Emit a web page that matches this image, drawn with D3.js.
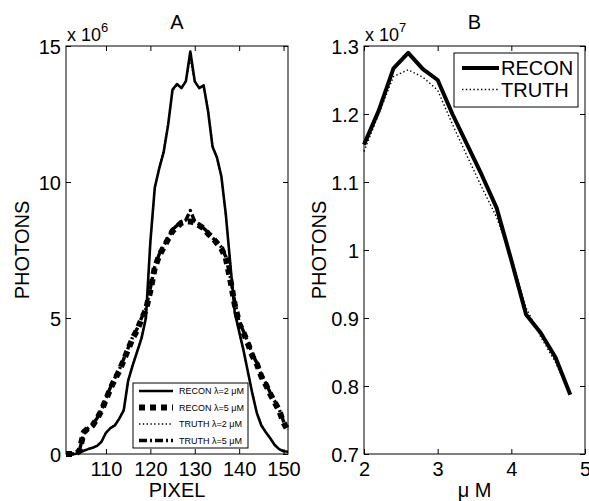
<!DOCTYPE html>
<html>
<head>
<meta charset="utf-8">
<script src="https://cdn.jsdelivr.net/npm/d3@7"></script>
<style>
  body { margin: 0; background: #fff; }
  text { font-family: "Liberation Sans", Arial, Helvetica, sans-serif; fill: #000; }
</style>
</head>
<body>
<div id="chart"></div>
<script>
// panel A: photons (x 10^6) along pixel
const pixels = [101,102,103,104,105,106,107,108,109,110,111,112,113,114,115,116,117,118,119,120,
  121,122,123,124,125,126,127,128,129,130,131,132,133,134,135,136,137,138,139,140,
  141,142,143,144,145,146,147,148,149,150,151]
const reconL2 = [0.02,0.01,0.0,0.05,0.12,0.18,0.23,0.3,0.45,0.78,0.95,1.05,1.3,1.6,2.7,3.25,3.75,4.25,5.0,7.8,
  9.8,10.5,11.1,12.1,13.4,13.6,13.45,13.7,14.8,13.7,13.45,13.55,12.6,11.3,10.9,10.2,8.8,7.0,5.2,4.5,
  3.8,3.0,2.2,1.5,1.05,0.8,0.58,0.33,0.18,0.1,0.08]
const reconL5 = [0,0,0,0.1,0.8,0.95,1.05,1.3,1.6,2.0,2.4,2.75,3.05,3.45,3.85,4.25,4.55,4.95,5.3,6.0,
  6.85,7.3,7.6,7.9,8.2,8.35,8.5,8.55,8.55,8.5,8.4,8.3,8.1,7.95,7.75,7.55,7.2,6.4,5.5,4.8,
  4.45,4.05,3.6,3.3,2.85,2.55,2.2,1.9,1.6,1.15,0.85]
const truthL2 = [0,0,0.02,0.06,0.12,0.19,0.24,0.32,0.48,0.8,0.96,1.08,1.32,1.65,2.65,3.3,3.8,4.3,5.1,7.7,
  9.7,10.55,11.2,12.2,13.35,13.55,13.5,13.75,14.5,13.65,13.5,13.5,12.7,11.4,10.85,10.15,8.7,7.1,5.3,4.45,
  3.75,3.0,2.25,1.55,1.1,0.82,0.6,0.35,0.2,0.1,0.08]
const truthL5 = [0,0,0,0.12,0.75,0.95,1.08,1.32,1.62,2.05,2.45,2.8,3.1,3.5,3.9,4.3,4.6,5.0,5.35,6.1,
  6.9,7.35,7.65,7.95,8.25,8.4,8.5,8.6,8.95,8.55,8.45,8.3,8.15,7.95,7.8,7.6,7.25,6.5,5.6,4.85,
  4.5,4.1,3.65,3.35,2.9,2.6,2.25,1.95,1.65,1.2,0.9]
const xTicksA = [110,120,130,140,150]
const yTicksA = [0,5,10,15]

// panel B: photons (x 10^7) against concentration
const conc = [2.0,2.2,2.4,2.6,2.8,3.0,3.2,3.4,3.6,3.8,4.0,4.2,4.4,4.6,4.8]
const reconB = [1.155,1.205,1.267,1.290,1.266,1.250,1.200,1.155,1.110,1.062,0.985,0.905,0.878,0.842,0.787]
const truthB = [1.145,1.200,1.255,1.265,1.254,1.235,1.185,1.138,1.092,1.048,0.988,0.915,0.872,0.835,0.788]
const xTicksB = [2,3,4,5]
const yTicksB = [0.7,0.8,0.9,1.0,1.1,1.2,1.3]

const width = 589
const height = 501
const plotTop = 46, plotBottom = 454

const svg = d3.select("#chart").append("svg")
  .attr("width", width)
  .attr("height", height)

const styles = {
  reconL2: {w: 2.6, dash: null},
  reconL5: {w: 6, dash: "6,5"},
  truthL2: {w: 1.4, dash: "1.4,2.4"},
  truthL5: {w: 3.4, dash: "8,3,2,3"},
  reconB: {w: 4, dash: null},
  truthB: {w: 1.4, dash: "1.4,2.4"}
}

function panel(o) {
  const x = d3.scaleLinear().domain(o.xDomain).range([o.left, o.right])
  const y = d3.scaleLinear().domain(o.yDomain).range([plotBottom, plotTop])
  const g = svg.append("g")

  // box
  g.append("rect")
    .attr("x", o.left).attr("y", plotTop)
    .attr("width", o.right - o.left).attr("height", plotBottom - plotTop)
    .attr("fill", "none").attr("stroke", "#000").attr("stroke-width", 1)

  // ticks pointing inwards on all four sides
  const xb = g.append("g").attr("transform", `translate(0,${plotBottom})`)
    .call(d3.axisBottom(x).tickValues(o.xTicks).tickSizeInner(-5).tickSizeOuter(0).tickPadding(8).tickFormat(d3.format("d")))
  const xt = g.append("g").attr("transform", `translate(0,${plotTop})`)
    .call(d3.axisTop(x).tickValues(o.xTicks).tickSizeInner(-5).tickSizeOuter(0).tickFormat(""))
  const yl = g.append("g").attr("transform", `translate(${o.left},0)`)
    .call(d3.axisLeft(y).tickValues(o.yTicks).tickSizeInner(-5).tickSizeOuter(0).tickPadding(5).tickFormat(o.yFmt))
  const yr = g.append("g").attr("transform", `translate(${o.right},0)`)
    .call(d3.axisRight(y).tickValues(o.yTicks).tickSizeInner(-5).tickSizeOuter(0).tickFormat(""))
  ;[xb, xt, yl, yr].forEach(a => {
    a.select(".domain").remove()
    a.selectAll("line").attr("stroke", "#000")
    a.selectAll("text").attr("font-size", 20).attr("font-family", "Liberation Sans, Arial, sans-serif").attr("fill", "#000")
  })
  xb.selectAll("text").attr("dy", "0.71em")
  yl.selectAll("text").attr("dy", "0.35em")

  // series
  const line = d3.line().x((d, i) => x(o.xs[i])).y(d => y(d))
  o.series.forEach(s => {
    const st = styles[s.key]
    g.append("path")
      .datum(s.values)
      .attr("d", line)
      .attr("fill", "none")
      .attr("stroke", "#000")
      .attr("stroke-width", st.w)
      .attr("stroke-dasharray", st.dash)
      .attr("stroke-linejoin", "round")
  })

  // title, exponent, labels
  const cx = (o.left + o.right) / 2
  g.append("text").attr("x", cx).attr("y", 29).attr("text-anchor", "middle").attr("font-size", 20).text(o.title)
  const ex = g.append("text").attr("x", o.left + 1).attr("y", 41).attr("font-size", 18)
  ex.append("tspan").text("x 10")
  ex.append("tspan").attr("dy", -9).attr("font-size", 13).text(o.exp)
  g.append("text").attr("x", cx).attr("y", 497).attr("text-anchor", "middle").attr("font-size", 20).text(o.xLabel)
  g.append("text")
    .attr("transform", `translate(${o.yLabelX},${(plotTop + plotBottom) / 2}) rotate(-90)`)
    .attr("text-anchor", "middle").attr("font-size", 20).text("PHOTONS")

  // legend
  const L = o.legend
  g.append("rect").attr("x", L.x).attr("y", L.y).attr("width", L.w).attr("height", L.h)
    .attr("fill", "#fff").attr("stroke", "#000").attr("stroke-width", 1)
  o.series.forEach((s, i) => {
    const st = styles[s.key]
    const ly = L.y + L.row0 + i * L.rowH
    g.append("line")
      .attr("x1", L.x + L.lx0).attr("x2", L.x + L.lx1).attr("y1", ly).attr("y2", ly)
      .attr("stroke", "#000").attr("stroke-width", st.w).attr("stroke-dasharray", st.dash)
    g.append("text").attr("x", L.x + L.tx).attr("y", ly).attr("dy", "0.35em")
      .attr("font-size", L.fs).text(s.label)
  })
}

panel({
  left: 66, right: 288,
  xDomain: [101, 151], yDomain: [0, 15],
  xTicks: xTicksA, yTicks: yTicksA, yFmt: d3.format("d"),
  xs: pixels, title: "A", exp: "6", xLabel: "PIXEL", yLabelX: 29,
  series: [
    {key: "reconL2", label: "RECON λ=2 μM", values: reconL2},
    {key: "reconL5", label: "RECON λ=5 μM", values: reconL5},
    {key: "truthL2", label: "TRUTH λ=2 μM", values: truthL2},
    {key: "truthL5", label: "TRUTH λ=5 μM", values: truthL5}
  ],
  legend: {x: 133, y: 383, w: 115, h: 65, row0: 8, rowH: 16.5, lx0: 6, lx1: 40, tx: 46, fs: 9}
})

panel({
  left: 364, right: 585,
  xDomain: [2, 5], yDomain: [0.7, 1.3],
  xTicks: xTicksB, yTicks: yTicksB, yFmt: d => d === 1 ? "1" : d3.format(".1f")(d),
  xs: conc, title: "B", exp: "7", xLabel: "μ M", yLabelX: 326,
  series: [
    {key: "reconB", label: "RECON", values: reconB},
    {key: "truthB", label: "TRUTH", values: truthB}
  ],
  legend: {x: 454, y: 53, w: 124, h: 54, row0: 15, rowH: 21.5, lx0: 8, lx1: 45, tx: 47, fs: 20}
})
</script>
</body>
</html>
